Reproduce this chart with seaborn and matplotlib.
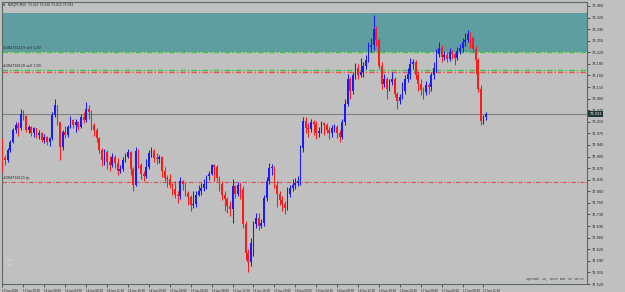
import numpy as np
import pandas as pd
import seaborn as sns
import matplotlib
matplotlib.use("Agg")
import matplotlib.pyplot as plt

# NZDJPY M30, 13 Jan 2020 16:00 .. 17 Jan 2020 12:30
# prices, written as points above 72.000 (1 pt = 0.001)
base = 72.0
first_open = 958
close = [900, 895, 925, 950, 985, 1000, 990, 1035, 1027, 985,
         995, 975, 990, 970, 975, 955, 965, 950, 960, 1030,
         1060, 1010, 935, 980, 970, 995, 1015, 1000, 1010, 995,
         1025, 1015, 1050, 1040, 1000, 985, 960, 925, 895, 920,
         890, 880, 905, 886, 860, 868, 895, 904, 920, 868,
         820, 922, 880, 853, 845, 874, 915, 922, 900, 898,
         905, 862, 840, 838, 820, 808, 790, 787, 830, 823,
         795, 784, 760, 763, 790, 802, 810, 823, 845, 853,
         880, 874, 840, 823, 790, 778, 755, 748, 815, 793,
         820, 808, 700, 613, 585, 643, 700, 718, 695, 703,
         780, 832, 870, 874, 820, 793, 775, 763, 750, 793,
         810, 820, 825, 832, 930, 1012, 990, 988, 1010, 1003,
         975, 982, 1005, 1000, 985, 976, 990, 994, 975, 964,
         1010, 1063, 1140, 1102, 1150, 1174, 1150, 1162, 1180, 1198,
         1235, 1243, 1290, 1258, 1180, 1123, 1140, 1108, 1130, 1138,
         1095, 1072, 1085, 1102, 1140, 1153, 1185, 1192, 1150, 1123,
         1105, 1099, 1120, 1114, 1150, 1174, 1215, 1234, 1205, 1213,
         1200, 1222, 1215, 1204, 1225, 1234, 1250, 1258, 1275, 1264,
         1230, 1198, 1110, 1012, 1025, 1033]
high = [962, 910, 930, 955, 990, 1009, 1008, 1048, 1045, 1030,
        1000, 998, 995, 992, 985, 978, 972, 968, 965, 1039,
        1078, 1062, 1010, 985, 997, 1000, 1027, 1020, 1018, 1012,
        1035, 1039, 1069, 1060, 1045, 1005, 990, 965, 930, 928,
        925, 907, 915, 910, 900, 880, 905, 916, 928, 922,
        872, 934, 928, 885, 860, 898, 925, 934, 928, 915,
        910, 906, 874, 850, 853, 825, 832, 800, 844, 835,
        829, 800, 790, 802, 800, 820, 825, 838, 850, 862,
        883, 882, 880, 845, 832, 800, 784, 770, 838, 820,
        829, 825, 817, 710, 625, 658, 710, 733, 733, 715,
        790, 844, 886, 884, 878, 830, 802, 785, 770, 814,
        820, 838, 840, 847, 940, 1024, 1024, 1005, 1018, 1015,
        1012, 995, 1012, 1010, 1006, 995, 1000, 1003, 1000, 985,
        1020, 1078, 1153, 1145, 1160, 1189, 1185, 1204, 1190, 1213,
        1250, 1264, 1333, 1300, 1264, 1190, 1153, 1145, 1140, 1159,
        1144, 1100, 1095, 1129, 1150, 1174, 1204, 1200, 1198, 1160,
        1138, 1115, 1132, 1128, 1160, 1192, 1230, 1252, 1243, 1225,
        1220, 1234, 1228, 1220, 1235, 1246, 1262, 1279, 1288, 1280,
        1270, 1240, 1204, 1120, 1030, 1039]
low = [859, 880, 889, 920, 945, 975, 967, 985, 1015, 979,
       975, 967, 965, 960, 958, 949, 945, 940, 937, 955,
       1025, 1000, 895, 925, 960, 965, 990, 990, 979, 985,
       992, 1005, 1010, 1020, 985, 967, 949, 915, 877, 880,
       868, 860, 875, 870, 850, 855, 862, 890, 900, 850,
       802, 815, 870, 838, 832, 840, 868, 905, 890, 883,
       885, 844, 830, 814, 810, 790, 780, 766, 778, 805,
       785, 760, 742, 750, 754, 785, 790, 800, 808, 835,
       848, 832, 830, 802, 775, 742, 735, 724, 703, 780,
       785, 778, 690, 592, 556, 575, 604, 690, 682, 688,
       694, 770, 823, 850, 810, 754, 760, 742, 730, 745,
       784, 800, 808, 815, 820, 920, 975, 964, 980, 970,
       958, 965, 975, 970, 975, 958, 964, 980, 960, 949,
       958, 1000, 1057, 1080, 1093, 1140, 1138, 1145, 1144, 1170,
       1192, 1220, 1228, 1240, 1170, 1108, 1115, 1078, 1102, 1120,
       1085, 1048, 1063, 1080, 1093, 1130, 1138, 1170, 1140, 1102,
       1090, 1078, 1090, 1095, 1102, 1140, 1162, 1205, 1192, 1198,
       1192, 1195, 1200, 1183, 1198, 1215, 1222, 1240, 1250, 1234,
       1220, 1153, 1100, 1000, 1003, 1015]

times = pd.date_range("2020-01-13 16:00", periods=len(close), freq="30min")
df = pd.DataFrame({"time": times,
                   "close": base + np.array(close) / 1000,
                   "high": base + np.array(high) / 1000,
                   "low": base + np.array(low) / 1000})
df["open"] = base + np.array([first_open] + close[:-1]) / 1000
df["bull"] = df["close"] >= df["open"]

# horizontal objects on the chart
zone_top, zone_bottom = 73.339, 73.222
green_levels = [73.222, 73.168]
red_levels = [73.162, 72.829]
level_labels = [(73.222, "#284736119 sell 1.00"), (73.168, "#284736120 sell 1.00"),
                (72.829, "#284736121 tp")]
price_ticks = [round(73.360 - 0.035 * k, 3) for k in range(25)]

sns.set_style("ticks", {"axes.facecolor": "#c0c0c0", "figure.facecolor": "#c0c0c0"})
plt.rcParams["font.family"] = ["DejaVu Sans"]

fig = plt.figure(figsize=(6.25, 2.92), dpi=100)
ax = fig.add_axes([2 / 625, 8 / 292, 585 / 625, 282 / 292])
ax.set_facecolor("#c0c0c0")

n = len(df)
xs = np.arange(n)
ax.set_xlim(-0.19, 223.6)
ax.set_ylim(72.526, 73.372)

dashdot = (0, (4, 1.5, 1, 1.5))
# zone and levels
ax.axhspan(zone_bottom, zone_top, color="#5f9ea0", zorder=0, lw=0)
for lv in green_levels:
    ax.axhline(lv, color="#3cc83c", lw=1.0, ls=dashdot, zorder=1)
ax.axhline(red_levels[0], color="#f05050", lw=1.0, ls=dashdot, zorder=1)
ax.axhline(red_levels[1], color="#d85050", lw=0.8, ls=dashdot, zorder=1)
ax.axhline(df["close"].iloc[-1], color="#7a8282", lw=0.8, zorder=1)
for lv, txt in level_labels:
    ax.text(0.002, lv + 0.004, txt, transform=ax.get_yaxis_transform(), fontsize=2.4,
            color="#202020", va="bottom", ha="left")

# candles
colors = np.where(df["bull"], "#1a1aff", "#ff1a1a")
ax.vlines(xs, df["low"], df["high"], colors=colors, lw=0.75, zorder=3)
body_lo = np.minimum(df["open"], df["close"])
body_h = np.maximum(np.abs(df["close"] - df["open"]), 0.002)
ax.bar(xs, body_h, bottom=body_lo, width=0.65, color=colors, lw=0, zorder=4)

# axes styling
for s in ax.spines.values():
    s.set_color("#5a6868")
    s.set_linewidth(0.8)
ax.yaxis.tick_right()
ax.set_yticks(price_ticks)
ax.set_yticklabels([f"{p:.3f}" for p in price_ticks], fontsize=2.5, color="#202020")
ax.tick_params(axis="y", length=2, width=0.5, pad=1.5, colors="#202020")
xt = list(range(0, n, 8))
ax.set_xticks(xt)
xlabels = ["13 Jan 2020"] + [t.strftime("%d Jan %H:%M") for t in df["time"].iloc[xt[1:]]]
ax.set_xticklabels(xlabels, fontsize=2.0, ha="left", color="#202020")
ax.tick_params(axis="x", length=2, width=0.5, pad=1.5)

# current price box
last = df["close"].iloc[-1]
ax.text(1.004, last, f"{last:.3f}", transform=ax.get_yaxis_transform(),
        fontsize=2.5, color="white", va="center", ha="left",
        bbox=dict(boxstyle="square,pad=0.35", fc="#203838", ec="none"))

# header and info text
fig.text(8 / 625, 1 - 5 / 292, "NZDJPY,M30  73.021 73.036 73.012 73.033", fontsize=2.2,
         color="#202020", va="center")
fig.text(3 / 625, 1 - 5 / 292, "\u25b2", fontsize=2.0, color="#202020", va="center")
ax.text(0.995, 0.012, "Spread: 16, Next Bar in 10:27", transform=ax.transAxes,
        fontsize=2.3, family="Liberation Mono", color="#303030", ha="right", va="bottom")
ax.text(0.008, 0.06, "Sun\nSun", transform=ax.transAxes, fontsize=2.4, color="#d8d8d8",
        va="bottom")

fig.savefig("out.png", dpi=100, facecolor="#c0c0c0")
